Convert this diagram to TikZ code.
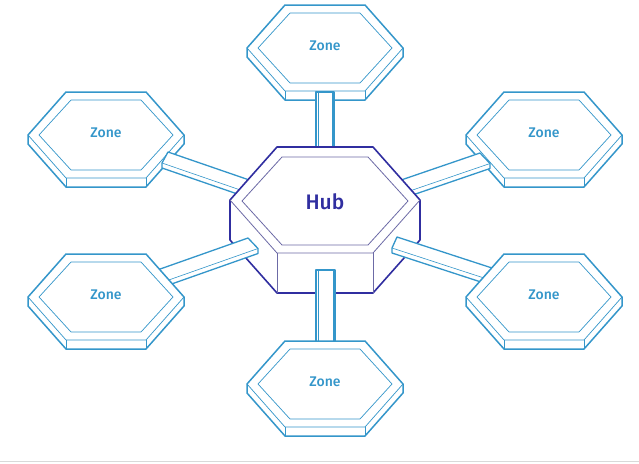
\documentclass[tikz,border=0pt]{standalone}
\usepackage{fontspec}
\setmainfont{Fira Sans}[BoldFont={* Medium}]
\usepackage{tikz}
\usetikzlibrary{calc}
\definecolor{zoneblue}{RGB}{52,150,202}
\definecolor{hubblue}{RGB}{48,46,160}
\definecolor{hubgrey}{RGB}{108,106,166}

\begin{document}
\begin{tikzpicture}[
        x=1pt, y=-1pt,
        line join=round,
        % zone slabs: thick silhouette, thin inner edges
        zoneout/.style ={draw=zoneblue, fill=white, line width=1.5pt},
        zonein/.style  ={draw=zoneblue, line width=0.7pt},
        zonetext/.style={text=zoneblue, font=\fontsize{14}{16}\selectfont\bfseries, inner sep=0pt},
        % hub block
        hubout/.style  ={draw=hubblue, fill=white, line width=1.6pt},
        hubin/.style   ={draw=hubgrey, line width=0.8pt},
        hubtext/.style ={text=hubblue, font=\fontsize{21}{24}\selectfont\bfseries, inner sep=0pt},
        % connecting bars
        barout/.style  ={draw=zoneblue, fill=white, line width=1.3pt},
        barin/.style   ={draw=zoneblue, line width=0.6pt}
    ]
    \useasboundingbox (0,0) rectangle (639,463);

    %% ===== zones behind the hub =====
    \foreach \nm/\cx/\cy in {zT/325/48, zLT/106/135, zRT/544/135}{
        \begin{scope}[shift={(\cx,\cy)}]
            \draw[zoneout] (-40,-43) -- (40,-43) -- (78,0) -- (78,9) -- (40,52)
                -- (-40,52) -- (-78,9) -- (-78,0) -- cycle;
            \draw[zonein] (78,0) -- (40,43) -- (-40,43) -- (-78,0);
            \draw[zonein] (40,43) -- (40,52) (-40,43) -- (-40,52);
            \draw[zonein] (-35,-35) -- (35,-35) -- (67,0) -- (35,35) -- (-35,35) -- (-67,0) -- cycle;
            \node[zonetext] (\nm) at (0,-2) {Zone};
        \end{scope}
    }

    %% ===== bars running under the hub =====
    % top bar
    \coordinate (tS) at (316,92);
    \draw[barout] (tS) rectangle ++(18,62);
    \draw[barin] ($(tS)+(2.2,0)$) -- ++(0,62) ($(tS)+(15.8,0)$) -- ++(0,62);
    % left-top bar
    \coordinate (ltS) at (168,152);
    \draw[barout] (ltS) -- ++(94.6,32.6) -- ++(-6,11) -- ++(0,5) -- ++(-94.6,-32.6)
        -- ++(0,-5) -- cycle;
    \draw[barin] ($(ltS)+(-6,11)$) -- ++(94.6,32.6);
    % right-top bar
    \coordinate (rtS) at (480,153);
    \draw[barout] (rtS) -- ++(-94.6,32.4) -- ++(10,10.5) -- ++(0,5) -- ++(94.6,-32.4)
        -- ++(0,-5) -- cycle;
    \draw[barin] ($(rtS)+(10,10.5)$) -- ++(-94.6,32.4);

    %% ===== hub =====
    \begin{scope}[shift={(325,200)}]
        \draw[hubout] (-48,-53) -- (48,-53) -- (95,0) -- (95,40) -- (48,93)
            -- (-48,93) -- (-95,40) -- (-95,0) -- cycle;
        \draw[hubin] (-95,0) -- (-48,53) -- (48,53) -- (95,0);
        \draw[hubin] (-48,53) -- (-48,93) (48,53) -- (48,93);
        \draw[hubin] (-43,-43) -- (43,-43) -- (83,1) -- (43,45) -- (-43,45) -- (-83,1) -- cycle;
        \node[hubtext] (hub) at (0,2) {Hub};
    \end{scope}

    %% ===== bars lying on the hub =====
    % left-bottom bar
    \coordinate (lbS) at (248,238);
    \draw[barout] (lbS) -- ++(10,10.5) -- ++(0,5) -- ++(-103.7,36.6) -- ++(0,-5)
        -- ++(-10,-10.5) -- cycle;
    \draw[barin] ($(lbS)+(10,10.5)$) -- ++(-103.7,36.6);
    % right-bottom bar
    \coordinate (rbS) at (397,237);
    \draw[barout] (rbS) -- ++(-5,11) -- ++(0,5) -- ++(104.5,34.1) -- ++(0,-5)
        -- ++(5,-11) -- cycle;
    \draw[barin] ($(rbS)+(-5,11)$) -- ++(104.5,34.1);
    % bottom bar
    \coordinate (bS) at (316,270);
    \draw[barout] (bS) rectangle ++(19,80);
    \draw[barin] ($(bS)+(2.2,0)$) -- ++(0,80) ($(bS)+(16.8,0)$) -- ++(0,80);

    %% ===== zones in front =====
    \foreach \nm/\cx/\cy in {zLB/106/297, zRB/544/297, zB/325/384}{
        \begin{scope}[shift={(\cx,\cy)}]
            \draw[zoneout] (-40,-43) -- (40,-43) -- (78,0) -- (78,9) -- (40,52)
                -- (-40,52) -- (-78,9) -- (-78,0) -- cycle;
            \draw[zonein] (78,0) -- (40,43) -- (-40,43) -- (-78,0);
            \draw[zonein] (40,43) -- (40,52) (-40,43) -- (-40,52);
            \draw[zonein] (-35,-35) -- (35,-35) -- (67,0) -- (35,35) -- (-35,35) -- (-67,0) -- cycle;
            \node[zonetext] (\nm) at (0,-2) {Zone};
        \end{scope}
    }

    \draw[black!15, line width=0.8pt] (0,461.5) -- (639,461.5);
\end{tikzpicture}
\end{document}
